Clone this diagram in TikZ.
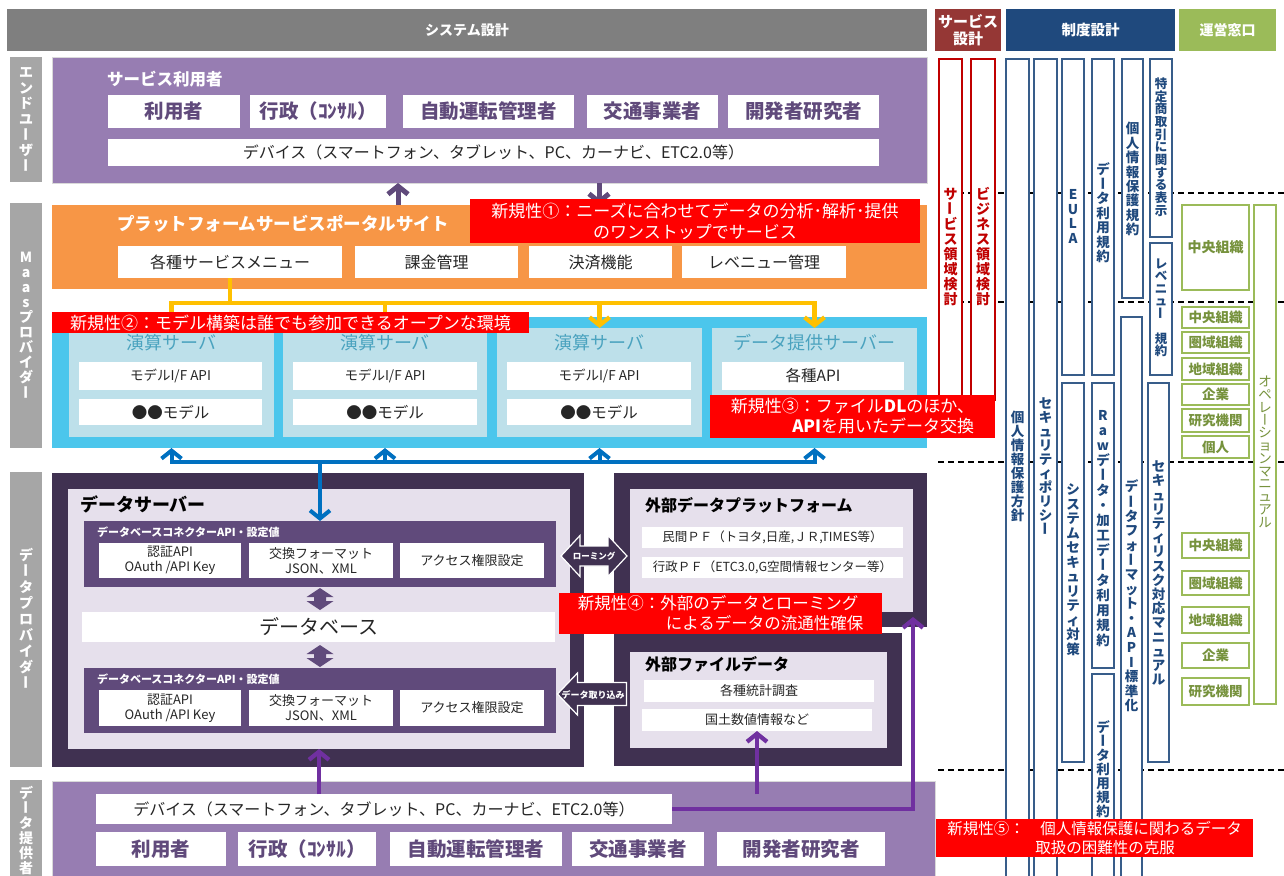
\documentclass[tikz,border=0pt]{standalone}
\usepackage{fontspec}
\setmainfont{Noto Sans CJK JP}
\usepackage{graphicx}
\usetikzlibrary{arrows.meta,calc}

\definecolor{hdrgray}{HTML}{7F7F7F}
\definecolor{lblgray}{HTML}{A6A6A6}
\definecolor{svred}{HTML}{953735}
\definecolor{sdblue}{HTML}{1F497D}
\definecolor{ungreen}{HTML}{9BBB59}
\definecolor{eupur}{HTML}{977DB2}
\definecolor{txpur}{HTML}{604A7B}
\definecolor{orng}{HTML}{F79646}
\definecolor{cyanbg}{HTML}{4BC6EC}
\definecolor{ltblue}{HTML}{BDE0EA}
\definecolor{srvtxt}{HTML}{4BA3BF}
\definecolor{dkpur}{HTML}{403151}
\definecolor{lav}{HTML}{E6E0EC}
\definecolor{conpur}{HTML}{604A7B}
\definecolor{yel}{HTML}{FFC000}
\definecolor{blu}{HTML}{0070C0}
\definecolor{arrpur}{HTML}{7030A0}
\definecolor{colred}{HTML}{C00000}
\definecolor{colblue}{HTML}{385D8A}
\definecolor{coltxt}{HTML}{1F497D}
\definecolor{grntxt}{HTML}{76923C}
\definecolor{dtxt}{HTML}{262626}
\definecolor{callred}{HTML}{FF0000}

\newcommand\fs[2]{\fontsize{#1}{#2}\selectfont}

\makeatletter
\newdimen\vt@p
\newcommand\vt[2][1.05em]{\vt@p=#1\relax\vbox{\offinterlineskip\vt@loop#2\vt@end}}
\def\vt@end{\vt@end@x}
\def\vt@loop#1{\ifx#1\vt@end\else\vt@one{#1}\expandafter\vt@loop\fi}
\def\vt@one#1{\hbox to 1.2em{\hss\vrule height .8\vt@p depth .2\vt@p width 0pt\smash{\vt@g{#1}}\hss}}
\def\vt@g#1{\ifx#1ー\rotatebox[origin=c]{90}{\vrule height .88em depth .12em width 0pt ー}\else #1\fi}
\makeatother

\tikzset{
 bx/.style={anchor=north west,inner sep=0pt,outer sep=0pt},
 wh/.style 2 args={minimum width=#1pt,minimum height=#2pt},
 txt/.style={inner sep=0pt,outer sep=0pt},
 wbox/.style={fill=white},
 callout/.style={fill=callred,text=white},
 redcol/.style={draw=colred,line width=1.5pt,fill=white},
 bluecol/.style={draw=colblue,line width=1.5pt,fill=white},
 grncol/.style={draw=ungreen,line width=2pt,fill=white},
 grntext/.style={text=grntxt,font=\fs{13.5}{15}\bfseries},
 coltext/.style={txt,text=coltxt,font=\fs{13.5}{15}\bfseries},
 lbl/.style={bx,fill=lblgray,text=white,font=\fs{14}{16}\bfseries},
 eubox/.style={bx,wbox,text=txpur,font=\fs{19.5}{21}\bfseries},
 yline/.style={draw=yel,line width=4.3pt},
 bline/.style={draw=blu,line width=4pt},
 pline/.style={draw=arrpur,line width=4.3pt},
 tline/.style={draw=txpur,line width=5pt},
 barb/.style={-{Straight Barb[length=8pt,width=20pt]}},
 dashline/.style={draw=black,line width=1.3pt,dash pattern=on 6pt off 4pt},
}

\begin{document}
\begin{tikzpicture}[x=1pt,y=-1pt]
\useasboundingbox[fill=white] (0,0) rectangle (1284,875);

% ---------- headers ----------
\node[bx,wh={920}{42},fill=hdrgray,text=white,font=\fs{14}{16}\bfseries] (hsys) at (7,9) {システム設計};
\node[bx,wh={66}{42},fill=svred,text=white,font=\fs{15}{17}\bfseries,align=center] (hsvc) at (935,9) {サービス\\設計};
\node[bx,wh={169}{42},fill=sdblue,text=white,font=\fs{14.5}{16}\bfseries] (hsei) at (1006,9) {制度設計};
\node[bx,wh={97}{42},fill=ungreen,text=white,font=\fs{14}{16}\bfseries] (hune) at (1179,9) {運営窓口};

% ---------- left labels ----------
\node[lbl,wh={32}{125}] (L1) at (10,57) {\vt[15.5pt]{エンドユーザー}};
\node[lbl,wh={32}{245}] (L2) at (10,203) {\vt[15pt]{Maasプロバイダー}};
\node[lbl,wh={32}{295}] (L3) at (10,472) {\vt[16pt]{データプロバイダー}};
\node[lbl,wh={32}{110}] (L4) at (10,780) {};
\node[txt,anchor=north,text=white,font=\fs{14}{16}\bfseries] (L4t) at (26,786) {\vt[15pt]{データ提供者}};

% ---------- end users ----------
\node[bx,wh={875}{126},fill=eupur,draw=black!15] (eu) at (52,57) {};
\node[txt,anchor=west,text=white,font=\fs{16.5}{19}\bfseries] (eut) at (107,79) {サービス利用者};
\node[eubox,wh={132}{33}] (eu1) at (108,95) {利用者};
\node[eubox,wh={136}{33}] (eu2) at (250,95) {行政（ｺﾝｻﾙ）};
\node[eubox,wh={171}{33}] (eu3) at (403,95) {自動運転管理者};
\node[eubox,wh={131}{33}] (eu4) at (587,95) {交通事業者};
\node[eubox,wh={151}{33}] (eu5) at (728,95) {開発者研究者};
\node[bx,wbox,wh={771}{27},text=dtxt,font=\fs{16}{18}] (eud) at (108,139) {デバイス（スマートフォン、タブレット、PC、カーナビ、ETC2.0等）};

% ---------- portal ----------
\node[bx,wh={875}{84},fill=orng] (po) at (52,205) {};
\node[txt,anchor=west,text=white,font=\fs{17.5}{20}\bfseries] (pot) at (117,224) {プラットフォームサービスポータルサイト};
\node[bx,wbox,wh={224}{32},text=dtxt,font=\fs{16}{18}] (m1) at (118,246) {各種サービスメニュー};
\node[bx,wbox,wh={163}{32},text=dtxt,font=\fs{16}{18}] (m2) at (355,246) {課金管理};
\node[bx,wbox,wh={143}{32},text=dtxt,font=\fs{16}{18}] (m3) at (529,246) {決済機能};
\node[bx,wbox,wh={164}{32},text=dtxt,font=\fs{16}{18}] (m4) at (682,246) {レベニュー管理};

% ---------- servers ----------
\node[bx,wh={875}{131},fill=cyanbg] (cy) at (52,317) {};
\node[bx,wh={205}{109},fill=ltblue] (s1) at (69,328) {};
\node[bx,wh={204}{109},fill=ltblue] (s2) at (283,328) {};
\node[bx,wh={205}{109},fill=ltblue] (s3) at (497,328) {};
\node[bx,wh={205}{109},fill=ltblue] (s4) at (712,328) {};
\node[txt,text=srvtxt,font=\fs{18}{20}] (s1t) at ($(s1.north)+(0,15)$) {演算サーバ};
\node[txt,text=srvtxt,font=\fs{18}{20}] (s2t) at ($(s2.north)+(0,15)$) {演算サーバ};
\node[txt,text=srvtxt,font=\fs{18}{20}] (s3t) at ($(s3.north)+(0,15)$) {演算サーバ};
\node[txt,text=srvtxt,font=\fs{18}{20}] (s4t) at ($(s4.north)+(0,15)$) {データ提供サーバー};
\node[bx,wbox,wh={183}{28},text=dtxt,font=\fs{13.5}{16}] (s1a) at (79,362) {モデルI/F API};
\node[bx,wbox,wh={183}{26},text=dtxt,font=\fs{15.5}{17}] (s1b) at (79,399) {●●モデル};
\node[bx,wbox,wh={184}{28},text=dtxt,font=\fs{13.5}{16}] (s2a) at (293,362) {モデルI/F API};
\node[bx,wbox,wh={184}{26},text=dtxt,font=\fs{15.5}{17}] (s2b) at (293,399) {●●モデル};
\node[bx,wbox,wh={184}{28},text=dtxt,font=\fs{13.5}{16}] (s3a) at (507,362) {モデルI/F API};
\node[bx,wbox,wh={184}{26},text=dtxt,font=\fs{15.5}{17}] (s3b) at (507,399) {●●モデル};
\node[bx,wbox,wh={182}{28},text=dtxt,font=\fs{15.5}{17}] (s4a) at (722,362) {各種API};

% ---------- data server ----------
\node[bx,wh={532}{294},fill=dkpur] (do) at (52,473) {};
\node[bx,wh={502}{260},fill=lav] (di) at (68,489) {};
\node[txt,anchor=west,text=black,font=\fs{18}{20}\bfseries] (dit) at (80,504) {データサーバー};
\node[bx,wh={472}{66},fill=conpur] (c1) at (84,521) {};
\node[txt,anchor=west,text=white,font=\fs{11}{13}\bfseries] (c1t) at (97,532) {データベースコネクターAPI・設定値};
\node[bx,wbox,wh={142}{35},text=dtxt,font=\fs{13}{15},align=center] (c1a) at (99,543) {認証API\\OAuth /API Key};
\node[bx,wbox,wh={144}{35},text=dtxt,font=\fs{13}{15},align=center] (c1b) at (249,543) {交換フォーマット\\JSON、XML};
\node[bx,wbox,wh={144}{35},text=dtxt,font=\fs{13}{15}] (c1c) at (400,543) {アクセス権限設定};
\node[bx,wbox,wh={473}{30},text=dtxt,font=\fs{20}{22}] (db) at (82,612) {データベース};
\node[bx,wh={472}{65},fill=conpur] (c2) at (84,668) {};
\node[txt,anchor=west,text=white,font=\fs{11}{13}\bfseries] (c2t) at (97,679) {データベースコネクターAPI・設定値};
\node[bx,wbox,wh={142}{36},text=dtxt,font=\fs{13}{15},align=center] (c2a) at (99,690) {認証API\\OAuth /API Key};
\node[bx,wbox,wh={144}{36},text=dtxt,font=\fs{13}{15},align=center] (c2b) at (249,690) {交換フォーマット\\JSON、XML};
\node[bx,wbox,wh={144}{36},text=dtxt,font=\fs{13}{15}] (c2c) at (400,690) {アクセス権限設定};

% fat double arrows
\coordinate (da1) at (320,599);
\coordinate (da2) at (320,656);
\fill[conpur] ($(da1)+(0,-11)$) -- ++(13.5,9) -- ++(-7.5,0) -- ++(0,4) -- ++(7.5,0) -- ++(-13.5,9) -- ++(-13.5,-9) -- ++(7.5,0) -- ++(0,-4) -- ++(-7.5,0) -- cycle;
\fill[conpur] ($(da2)+(0,-11)$) -- ++(13.5,9) -- ++(-7.5,0) -- ++(0,4) -- ++(7.5,0) -- ++(-13.5,9) -- ++(-13.5,-9) -- ++(7.5,0) -- ++(0,-4) -- ++(-7.5,0) -- cycle;

% ---------- external ----------
\node[bx,wh={313}{154},fill=dkpur] (eo) at (614,473) {};
\node[bx,wh={283}{123},fill=lav] (ei) at (630,489) {};
\node[txt,anchor=west,text=black,font=\fs{16}{18}\bfseries] (eit) at (645,505) {外部データプラットフォーム};
\node[bx,wbox,wh={261}{21},text=dtxt,font=\fs{12.5}{14}] (p1) at (642,527) {民間ＰＦ（トヨタ,日産,ＪＲ,TIMES等）};
\node[bx,wbox,wh={261}{21},text=dtxt,font=\fs{12.5}{14}] (p2) at (642,557) {行政ＰＦ（ETC3.0,G空間情報センター等）};
\node[bx,wh={288}{133},fill=dkpur] (fo) at (614,633) {};
\node[bx,wh={257}{96},fill=lav] (fi) at (630,652) {};
\node[txt,anchor=west,text=black,font=\fs{16}{18}\bfseries] (fit) at (645,664) {外部ファイルデータ};
\node[bx,wbox,wh={230}{22},text=dtxt,font=\fs{13}{15}] (f1) at (644,680) {各種統計調査};
\node[bx,wbox,wh={230}{22},text=dtxt,font=\fs{13}{15}] (f2) at (642,709) {国土数値情報など};

% roaming / import block arrows
\coordinate (ra) at (594,556);
\filldraw[fill=dkpur,draw=white,line width=1.2pt] ($(ra)+(-33,0)$) -- ++(19,-20.5) -- ++(0,10.5) -- ++(28,0) -- ++(0,-10.5) -- ++(19,20.5) -- ++(-19,20.5) -- ++(0,-10.5) -- ++(-28,0) -- ++(0,10.5) -- cycle;
\node[txt,text=white,font=\fs{8.5}{10}\bfseries] (rat) at (ra) {ローミング};
\coordinate (ia) at (592,694);
\filldraw[fill=dkpur,draw=white,line width=1.2pt] ($(ia)+(-34.5,0)$) -- ++(20,-21) -- ++(0,9.5) -- ++(49,0) -- ++(0,23) -- ++(-49,0) -- ++(0,9.5) -- cycle;
\node[txt,text=white,font=\fs{9}{10}\bfseries] (iat) at (593,695) {データ取り込み};

% ---------- data providers (bottom) ----------
\node[bx,wh={883}{100},fill=eupur,draw=black!15] (bb) at (52,781) {};
\node[bx,wbox,wh={576}{30},text=dtxt,font=\fs{16}{18}] (bd) at (96,794) {デバイス（スマートフォン、タブレット、PC、カーナビ、ETC2.0等）};
\node[eubox,wh={130}{34}] (bb1) at (96,832) {利用者};
\node[eubox,wh={138}{34}] (bb2) at (238,832) {行政（ｺﾝｻﾙ）};
\node[eubox,wh={172}{34}] (bb3) at (390,832) {自動運転管理者};
\node[eubox,wh={132}{34}] (bb4) at (572,832) {交通事業者};
\node[eubox,wh={168}{34}] (bb5) at (717,832) {開発者研究者};

% ---------- connectors ----------
\coordinate (upx) at (398,0);
\coordinate (dnx) at (599,0);
\draw[tline,barb] (upx |- po.north) -- (upx |- eu.south);
\draw[tline,barb] (dnx |- eu.south) -- (dnx |- po.north);

\coordinate (ybus) at (0,303);
\draw[yline] (m1.south) -- (m1.south |- ybus);
\draw[yline,line cap=rect] (s1.north |- ybus) -- (s4.north |- ybus);
\foreach \s in {s1,s2,s3,s4} {\draw[yline,barb] (\s.north |- ybus) -- (\s.north);}

\coordinate (bbus) at (0,462);
\draw[bline,line cap=rect] (s1.south |- bbus) -- (s4.south |- bbus);
\foreach \s in {s1,s2,s3,s4} {\draw[bline,barb] (\s.south |- bbus) -- (\s.south |- cy.south);}
\draw[bline,barb] (c1.north |- bbus) -- (c1.north);

\draw[pline,barb] (bd.north -| di.south) -- (di.south);
\draw[pline,barb] (bd.north -| f2.south) -- (f2.south);
\draw[pline,barb] (bd.east) -- (bd.east -| ei.east) -- ([yshift=-5pt]ei.south east);

% ---------- right side ----------
\draw[dashline] (938,193) -- (1284,193);
\draw[dashline] (938,302) -- (1284,302);
\draw[dashline] (938,462) -- (1284,462);
\draw[dashline] (938,770) -- (1284,770);

\node[bx,wh={23}{341},redcol] (r1) at (939,59) {};
\node[bx,wh={24}{341},redcol] (r2) at (971,59) {};
\node[txt,text=colred,font=\fs{14}{16}\bfseries] (r1t) at (950.5,247) {\vt[15pt]{サービス領域検討}};
\node[txt,text=colred,font=\fs{14}{16}\bfseries] (r2t) at (983,247) {\vt[15pt]{ビジネス領域検討}};

\node[bx,wh={23}{830},bluecol] (b1) at (1006,59) {};
\node[bx,wh={23}{830},bluecol] (b2) at (1034,59) {};
\node[bx,wh={22}{316},bluecol] (b3) at (1062,59) {};
\node[bx,wh={22}{379},bluecol] (b3b) at (1062,383) {};
\node[bx,wh={22}{316},bluecol] (b4) at (1092,59) {};
\node[bx,wh={22}{285},bluecol] (b4b) at (1092,383) {};
\node[bx,wh={22}{210},bluecol] (b4c) at (1092,674) {};
\node[bx,wh={21}{239},bluecol] (b5) at (1122,59) {};
\node[bx,wh={21}{570},bluecol] (b5b) at (1121,317) {};
\node[bx,wh={22}{178},bluecol] (b6) at (1150,59) {};
\node[bx,wh={22}{132},bluecol] (b6b) at (1150,243) {};
\node[bx,wh={21}{379},bluecol] (b6c) at (1148,383) {};

\node[coltext] (b1t) at (1017.5,467) {\vt[14pt]{個人情報保護方針}};
\node[coltext] (b2t) at (1045.5,467) {\vt[14pt]{セキュリティポリシー}};
\node[coltext] (b3t) at (1073,217) {\vt[14.5pt]{EULA}};
\node[coltext] (b3bt) at (1073,570) {\vt[14.5pt]{システムセキュリティ対策}};
\node[coltext] (b4t) at (1103,214) {\vt[14.5pt]{データ利用規約}};
\node[coltext] (b4bt) at (1103,528) {\vt[15pt]{Rawデータ・加工データ利用規約}};
\node[coltext] (b4ct) at (1103,770) {\vt[14pt]{データ利用規約}};
\node[coltext] (b5t) at (1132.5,180) {\vt[14.4pt]{個人情報保護規約}};
\node[coltext] (b5bt) at (1131.5,597) {\vt[14.6pt]{データフォーマット・API標準化}};
\node[coltext,font=\fs{12.5}{14}\bfseries] (b6t) at (1161,148) {\vt[12.7pt]{特定商取引に関する表示}};
\node[coltext,font=\fs{12.5}{14}\bfseries] (b6bt) at (1161,308) {\vt[12.5pt]{レベニュー~規約}};
\node[coltext] (b6ct) at (1158.5,574) {\vt[14.2pt]{セキュリティリスク対応マニュアル}};

% green
\node[bx,wh={67}{85},grncol,grntext,font=\fs{14}{16}\bfseries] (g0) at (1182,205) {中央組織};
\node[bx,wh={22}{499},grncol] (gm) at (1254,205) {};
\node[txt,text=grntxt,font=\fs{13.5}{15}] (gmt) at (1265,453) {\vt[12.8pt]{オペレーションマニュアル}};
\node[bx,wh={67}{21},grncol,grntext] (g1) at (1182,307) {中央組織};
\node[bx,wh={67}{21},grncol,grntext] (g2) at (1182,332) {圏域組織};
\node[bx,wh={67}{22},grncol,grntext] (g3) at (1182,358) {地域組織};
\node[bx,wh={67}{21},grncol,grntext] (g4) at (1182,384) {企業};
\node[bx,wh={67}{23},grncol,grntext] (g5) at (1182,409) {研究機関};
\node[bx,wh={67}{22},grncol,grntext] (g6) at (1182,436) {個人};
\node[bx,wh={67}{25},grncol,grntext] (g7) at (1182,533) {中央組織};
\node[bx,wh={67}{24},grncol,grntext] (g8) at (1182,571) {圏域組織};
\node[bx,wh={67}{26},grncol,grntext] (g9) at (1182,607) {地域組織};
\node[bx,wh={67}{25},grncol,grntext] (g10) at (1182,643) {企業};
\node[bx,wh={67}{27},grncol,grntext] (g11) at (1182,678) {研究機関};

% ---------- callouts ----------
\node[bx,wh={450}{44},callout,font=\fs{17}{21},align=center] (n1) at (470,199) {新規性①：ニーズに合わせてデータの分析･解析･提供\\のワンストップでサービス};
\node[bx,wh={477}{21},callout,font=\fs{17}{19}] (n2) at (52,312) {新規性②：モデル構築は誰でも参加できるオープンな環境};
\node[bx,wh={285}{43},callout,font=\fs{17}{20},align=right] (n3) at (710,395) {新規性③：ファイル\textbf{DL}のほか、\\\textbf{API}を用いたデータ交換};
\node[bx,wh={323}{41},callout,font=\fs{16.5}{20},align=left] (n4) at (559,593) {新規性④：外部のデータとローミング\\\hspace*{88pt}によるデータの流通性確保};
\node[bx,wh={317}{38},callout,font=\fs{15.5}{19},align=left] (n5) at (936,819) {新規性⑤：　個人情報保護に関わるデータ\\\hspace*{88pt}取扱の困難性の克服};
\end{tikzpicture}
\end{document}
